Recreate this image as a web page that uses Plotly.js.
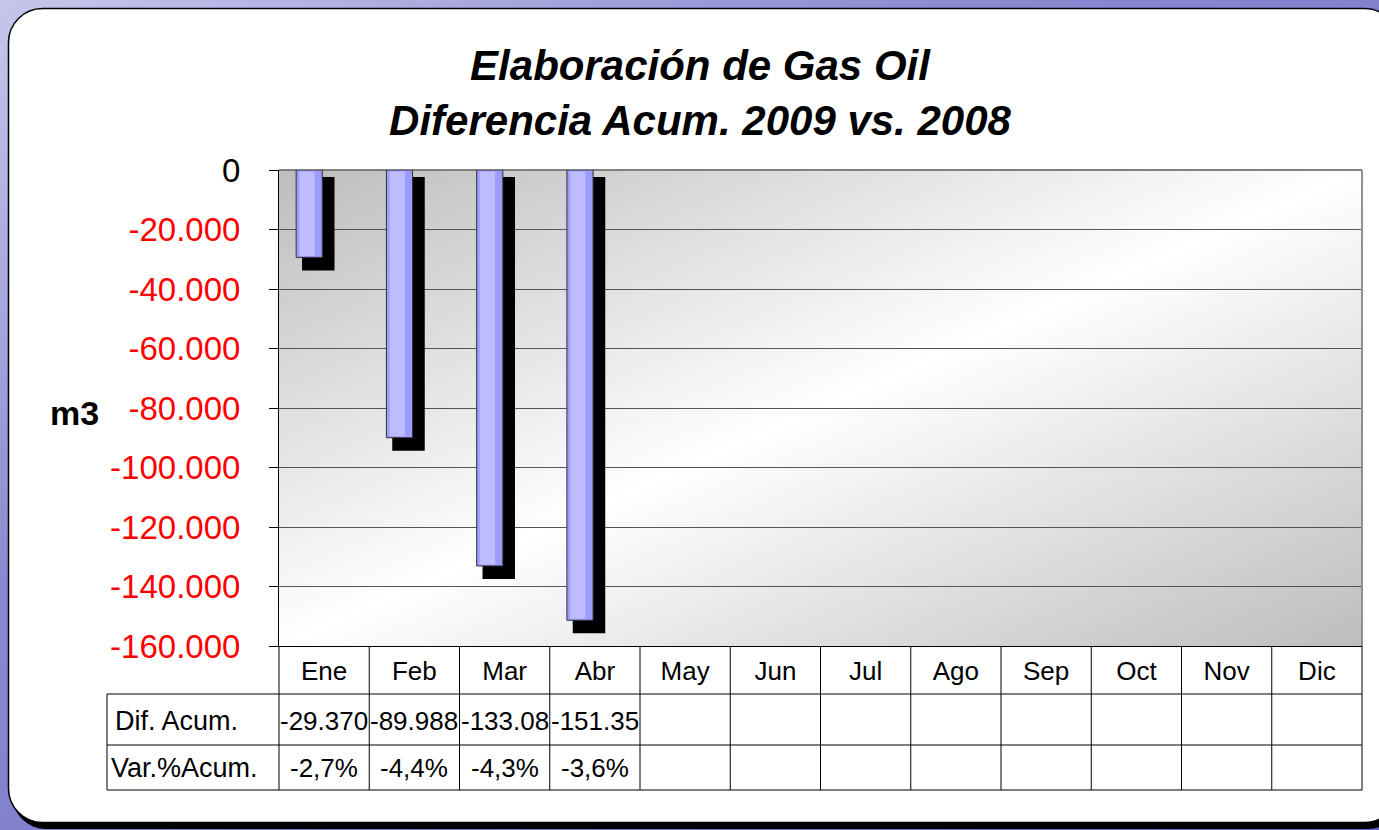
<!DOCTYPE html>
<html>
<head>
<meta charset="utf-8">
<script src="https://cdn.plot.ly/plotly-3.0.1.min.js"></script>
<style>html,body{margin:0;padding:0;background:#8080d0;}#chart{width:1379px;height:830px;}</style>
</head>
<body>
<div id="chart"></div>
<script>
// ---- data ----
const months = ['Ene','Feb','Mar','Abr','May','Jun','Jul','Ago','Sep','Oct','Nov','Dic'];
const difAcum = [-29370, -89988, -133080, -151350];
const varPct = [-2.7, -4.4, -4.3, -3.6];
const yTicks = [0, -20000, -40000, -60000, -80000, -100000, -120000, -140000, -160000];
const rowLabels = ['Dif. Acum.', 'Var.%Acum.'];

// ---- layout geometry ----
const W = 1379, H = 830;
const M = {l: 279, r: 17, t: 170, b: 184};
const PW = W - M.l - M.r, PH = H - M.t - M.b;
const yMin = -160000, yMax = 0;
const PX = (yMax - yMin) / PH; // data units per pixel
const FONT = 'Liberation Sans, Arial, sans-serif';
const py = p => 1 - (p - M.t) / PH;       // pixel y -> paper y
const pxp = p => (p - M.l) / PW;           // pixel x -> paper x

function fmtThousands(v) {
  const s = Math.abs(Math.round(v)).toString().replace(/\B(?=(\d{3})+(?!\d))/g, '.');
  return (v < 0 ? '-' : '') + s;
}
const tickText = yTicks.map(v => v === 0 ? '<span style="color:#000">0</span>' : fmtThousands(v));
const difText = difAcum.map(v => fmtThousands(v).slice(0, 7));
const pctText = varPct.map(v => (v < 0 ? '-' : '') + Math.abs(v).toFixed(1).replace('.', ',') + '%');

const xs = months.slice(0, difAcum.length);
const traces = [
  { type: 'bar', x: xs, y: difAcum.map(v => v - 6 * PX), base: -7 * PX,
    width: 0.36, offset: -0.245, marker: {color: '#000', line: {width: 0}}, hoverinfo: 'skip' },
  { type: 'bar', x: xs, y: difAcum, width: 0.29, offset: -0.31,
    marker: {color: '#9c9cff', line: {color: '#333', width: 1}}, hoverinfo: 'skip' },
  { type: 'bar', x: xs, y: difAcum.map(v => v + 3 * PX), base: -1.5 * PX, width: 0.17, offset: -0.275,
    marker: {color: '#bcbcff', line: {width: 0}}, hoverinfo: 'skip' }
];

const bgSvg = "<svg xmlns='http://www.w3.org/2000/svg' width='1379' height='830' viewBox='0 0 1379 830' preserveAspectRatio='none'>" +
  "<defs><linearGradient id='g' x1='0' y1='0' x2='1' y2='1'><stop offset='0' stop-color='#c6c6ec'/><stop offset='0.35' stop-color='#8a8ad2'/><stop offset='1' stop-color='#6464c4'/></linearGradient></defs>" +
  "<rect width='1379' height='830' fill='url(#g)'/>" +
  "<rect x='12' y='13' width='1390' height='816' rx='34' fill='#000'/>" +
  "<rect x='8.5' y='8.5' width='1390' height='814' rx='34' fill='#fff' stroke='#000' stroke-width='1.5'/>" +
  "</svg>";
const plotSvg = "<svg xmlns='http://www.w3.org/2000/svg' width='100' height='100' viewBox='0 0 100 100' preserveAspectRatio='none'>" +
  "<defs><linearGradient id='p' x1='0' y1='0' x2='1' y2='1'><stop offset='0' stop-color='#bdbdbd'/><stop offset='0.5' stop-color='#ffffff'/><stop offset='1' stop-color='#bdbdbd'/></linearGradient></defs>" +
  "<rect width='100' height='100' fill='url(#p)'/></svg>";
const uri = s => 'data:image/svg+xml;charset=utf-8,' + encodeURIComponent(s);

// table lines
const shapes = [];
const lineStyle = {color: '#000', width: 1};
const tableLeft = pxp(107);
const rowY = [694, 745, 790];
rowY.forEach(p => shapes.push({type: 'line', xref: 'paper', yref: 'paper', x0: tableLeft, x1: 1, y0: py(p), y1: py(p), line: lineStyle}));
for (let k = 0; k <= months.length; k++) {
  shapes.push({type: 'line', xref: 'paper', yref: 'paper', x0: k / months.length, x1: k / months.length,
    y0: 0, y1: py(790), line: lineStyle});
}
shapes.push({type: 'line', xref: 'paper', yref: 'paper', x0: tableLeft, x1: tableLeft, y0: py(694), y1: py(790), line: lineStyle});
shapes.push({type: 'line', xref: 'paper', yref: 'paper', x0: 0, x1: 1, y0: 1, y1: 1, line: {color: '#808080', width: 2}, layer: 'below'});
shapes.push({type: 'line', xref: 'paper', yref: 'paper', x0: 1, x1: 1, y0: 0, y1: 1, line: {color: '#909090', width: 2}});

const annotations = [];
annotations.push({xref: 'paper', yref: 'paper', x: pxp(74), y: py(413), text: '<b>m3</b>', showarrow: false,
  xanchor: 'center', yanchor: 'middle', font: {family: FONT, size: 34, color: '#000'}});
rowLabels.forEach((t, r) => annotations.push({xref: 'paper', yref: 'paper', x: pxp(r === 0 ? 113 : 109), y: py(r === 0 ? 721 : 768),
  text: t, showarrow: false, xanchor: 'left', yanchor: 'middle', font: {family: FONT, size: 27, color: '#000'}}));
difText.forEach((t, i) => annotations.push({xref: 'x', yref: 'paper', x: i, y: py(721), text: t, showarrow: false,
  xanchor: 'center', yanchor: 'middle', font: {family: FONT, size: 26, color: '#000'}}));
pctText.forEach((t, i) => annotations.push({xref: 'x', yref: 'paper', x: i, y: py(768), text: t, showarrow: false,
  xanchor: 'center', yanchor: 'middle', font: {family: FONT, size: 26, color: '#000'}}));

const layout = {
  width: W, height: H,
  margin: M,
  paper_bgcolor: '#8080d0',
  plot_bgcolor: 'rgba(0,0,0,0)',
  showlegend: false,
  barmode: 'overlay',
  font: {family: FONT, color: '#000'},
  title: {
    text: 'Elaboración de Gas Oil<br>Diferencia Acum. 2009 vs. 2008',
    font: {family: FONT, size: 42, weight: 'bold', style: 'italic', color: '#000'},
    xref: 'container', yref: 'container', x: 700 / W, xanchor: 'center', y: 1 - 80 / H, yanchor: 'middle'
  },
  xaxis: {
    type: 'category', categoryorder: 'array', categoryarray: months,
    range: [-0.5, months.length - 0.5],
    showgrid: false, zeroline: false, showline: true, linecolor: '#000', linewidth: 1,
    ticks: '', ticklabelstandoff: 2,
    tickfont: {family: FONT, size: 26, color: '#000'}, fixedrange: true
  },
  yaxis: {
    range: [yMin, yMax], tickvals: yTicks, ticktext: tickText,
    tickfont: {family: FONT, size: 33, color: '#ff0000'},
    ticks: 'outside', ticklen: 9, tickcolor: '#000', tickwidth: 1, ticklabelstandoff: 22,
    showline: true, linecolor: '#000', linewidth: 1,
    showgrid: true, gridcolor: '#555', gridwidth: 1, zeroline: false, fixedrange: true
  },
  images: [
    {source: uri(bgSvg), xref: 'paper', yref: 'paper', x: -M.l / PW, y: 1 + M.t / PH, sizex: W / PW, sizey: H / PH,
      xanchor: 'left', yanchor: 'top', sizing: 'stretch', layer: 'below'},
    {source: uri(plotSvg), xref: 'paper', yref: 'paper', x: 0, y: 1, sizex: 1, sizey: 1,
      xanchor: 'left', yanchor: 'top', sizing: 'stretch', layer: 'below'}
  ],
  shapes: shapes,
  annotations: annotations
};

Plotly.newPlot('chart', traces, layout, {displayModeBar: false, staticPlot: true});
</script>
</body>
</html>
